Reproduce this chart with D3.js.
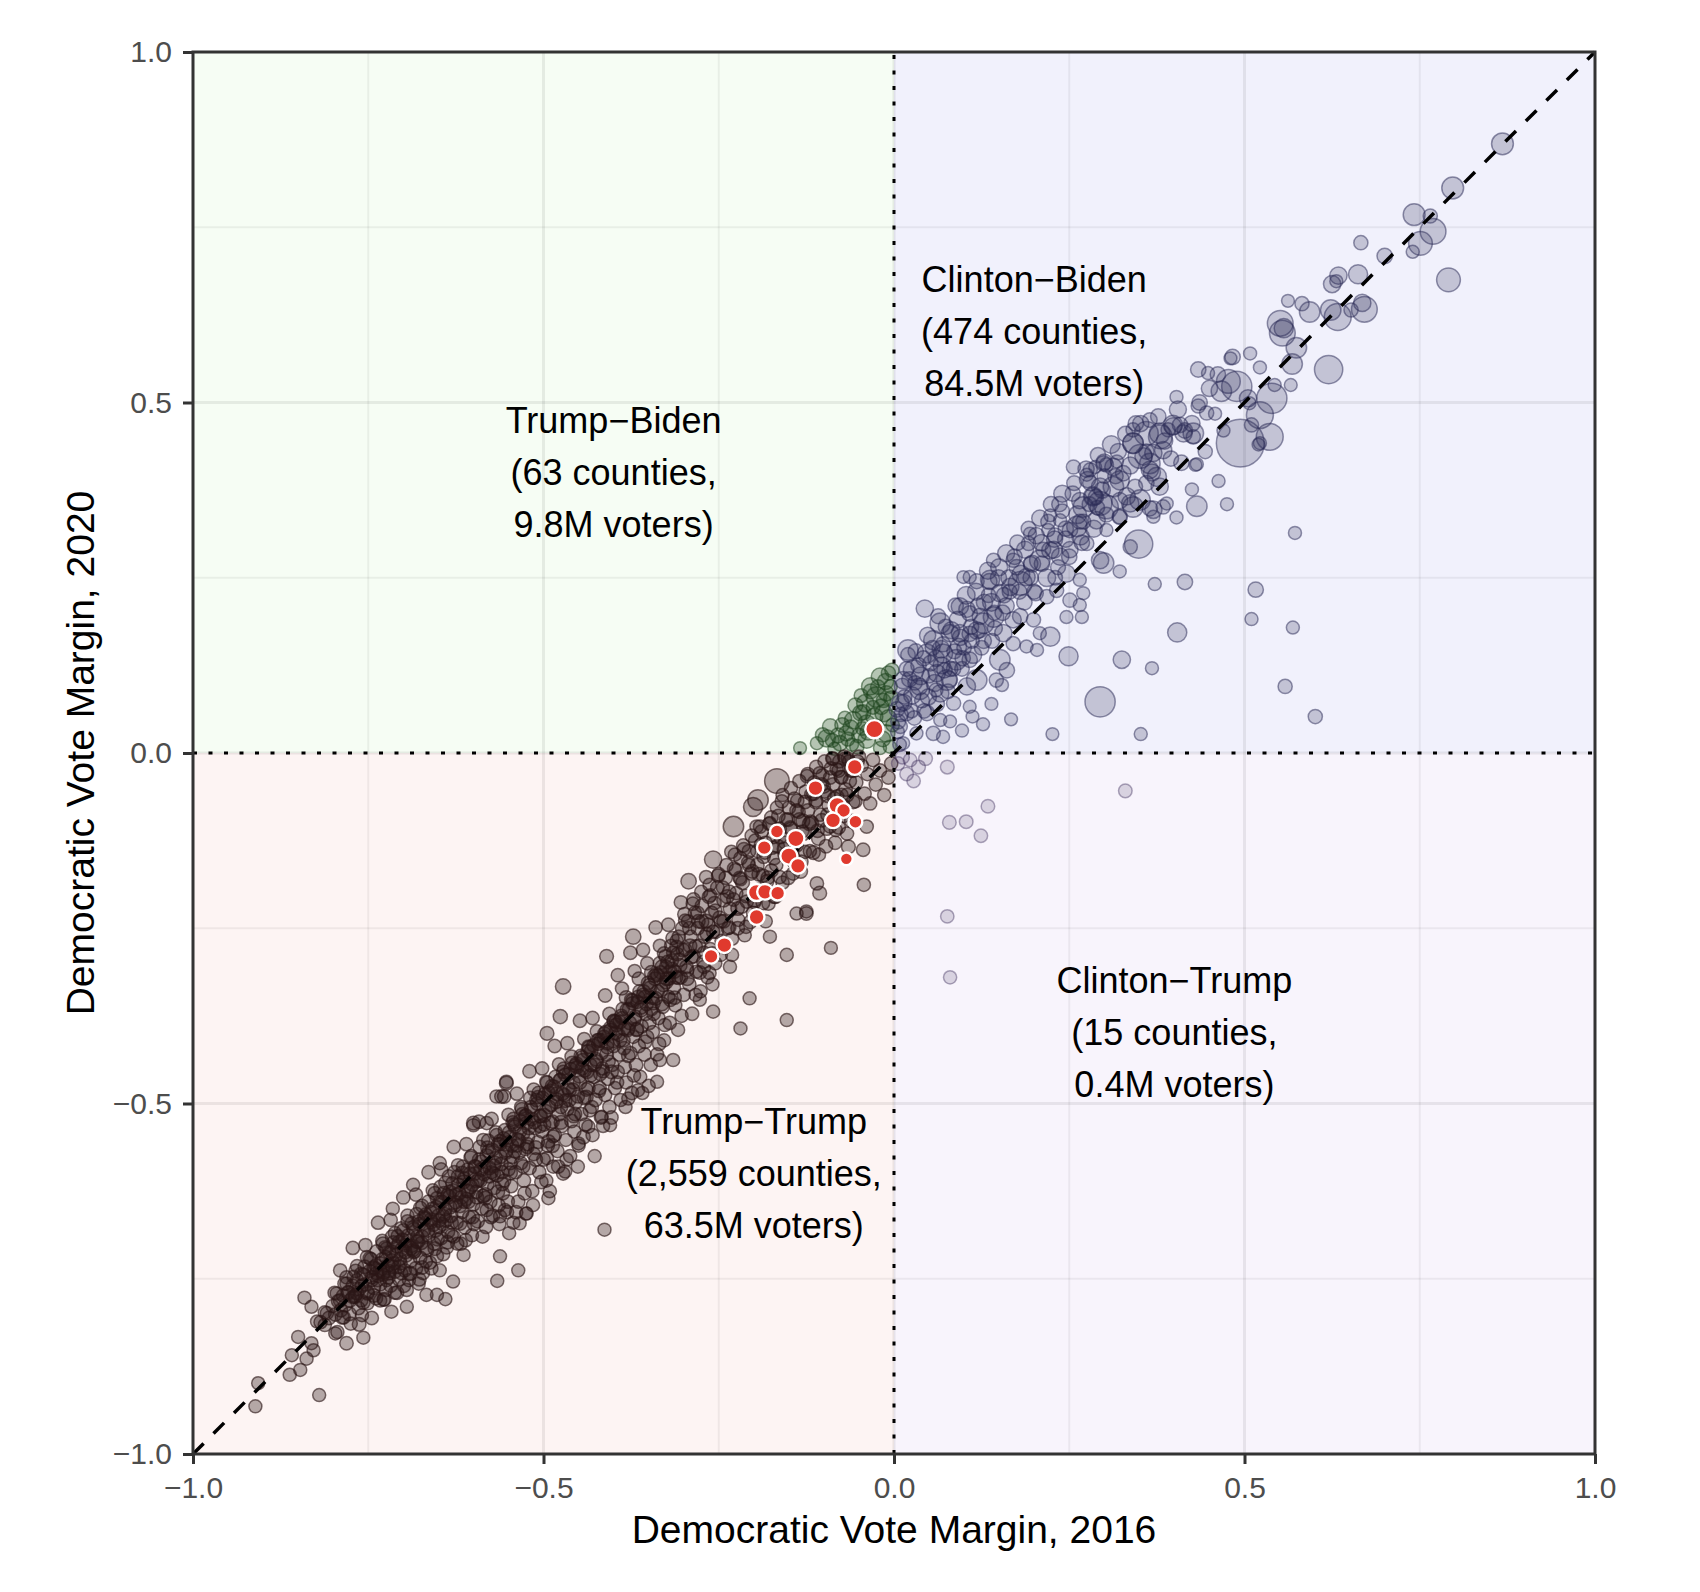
<!DOCTYPE html>
<html>
<head>
<meta charset="utf-8">
<script src="https://cdn.jsdelivr.net/npm/d3@7"></script>
<style>
  body { margin: 0; background: #fff; }
  svg { display: block; font-family: "Liberation Sans", Arial, Helvetica, sans-serif; }
</style>
</head>
<body>
<svg id="chart"></svg>
<script>
// quadrant categories and their annotation text
var quadrantNames = ['Trump−Biden', 'Clinton−Biden', 'Trump−Trump', 'Clinton−Trump'];
var quadrantCounties = ['63', '474', '2,559', '15'];
var quadrantVoters = ['9.8M', '84.5M', '63.5M', '0.4M'];
var labelX = [-0.4, 0.2, -0.2, 0.4];
var labelY = [0.4, 0.6, -0.6, -0.4];

var tickValues = [-1, -0.5, 0, 0.5, 1];
var minorValues = [-0.75, -0.25, 0.25, 0.75];

// counties: [margin 2016, margin 2020, voters (thousands)]
var trumpTrump = [
  // sparse tail + outliers
  [-0.911,-0.932,20],[-0.907,-0.899,20],[-0.820,-0.916,20],[-0.862,-0.887,25],[-0.847,-0.880,20],[-0.859,-0.859,20],
  [-0.838,-0.864,25],[-0.850,-0.833,20],[-0.828,-0.852,20],[-0.831,-0.842,20],[-0.841,-0.777,20],[-0.831,-0.790,20],
  [-0.823,-0.811,25],[-0.812,-0.816,30],[-0.797,-0.828,20],[-0.757,-0.834,20],[-0.809,-0.799,30],[-0.795,-0.771,25],
  [-0.781,-0.757,30],[-0.766,-0.771,25],[-0.759,-0.802,25],[-0.771,-0.747,20],[-0.752,-0.719,20],[-0.738,-0.742,25],
  [-0.728,-0.780,20],[-0.717,-0.797,25],[-0.695,-0.790,20],[-0.695,-0.766,25],[-0.678,-0.757,20],[-0.667,-0.773,25],
  [-0.652,-0.773,20],[-0.640,-0.779,25],[-0.629,-0.754,20],[-0.648,-0.738,20],[-0.614,-0.716,20],[-0.562,-0.718,20],
  [-0.566,-0.753,25],[-0.536,-0.738,20],[-0.549,-0.685,25],[-0.543,-0.670,20],[-0.525,-0.657,20],[-0.555,-0.652,25],
  [-0.493,-0.635,25],[-0.469,-0.597,20],[-0.715,-0.650,20],[-0.686,-0.616,25],[-0.648,-0.585,30],[-0.600,-0.531,30],
  [-0.553,-0.469,30],[-0.567,-0.490,30],[-0.581,-0.528,30],
  [-0.413,-0.680,20],[-0.153,-0.288,25],[-0.206,-0.350,20],[-0.219,-0.393,20],[-0.315,-0.438,25],[-0.334,-0.438,25],
  [-0.338,-0.469,20],[-0.365,-0.481,25],[-0.379,-0.493,20],[-0.417,-0.519,25],[-0.405,-0.531,20],[-0.436,-0.533,25],
  [-0.450,-0.557,20],[-0.486,-0.547,25],[-0.495,-0.578,20],[-0.524,-0.657,20],[-0.534,-0.671,20],[-0.562,-0.661,20],
  [-0.581,-0.652,25],[-0.372,-0.262,150],[-0.410,-0.290,60],[-0.472,-0.333,150],[-0.476,-0.376,80],[-0.495,-0.400,60],
  [-0.553,-0.471,60],[-0.560,-0.490,40],[-0.600,-0.528,60],[-0.125,-0.226,20],[-0.139,-0.229,20],[-0.177,-0.262,20],
  [-0.234,-0.305,25],[-0.263,-0.314,20],[-0.277,-0.352,20],[-0.258,-0.369,25],[-0.153,-0.381,20],[-0.090,-0.278,15],
  [-0.044,-0.138,40],[-0.043,-0.188,30],[-0.106,-0.200,60],[-0.125,-0.229,40],[-0.110,-0.186,40],[-0.065,-0.134,60],
  [-0.039,-0.105,40],[-0.167,-0.040,860],[-0.194,-0.067,500],[-0.201,-0.077,400],[-0.229,-0.105,500],[-0.258,-0.152,270],
  [-0.293,-0.183,150],
  // main band
  [-0.818,-0.812,30],[-0.812,-0.798,25],[-0.806,-0.806,40],[-0.801,-0.789,20],[-0.797,-0.801,35],[-0.793,-0.782,30],
  [-0.789,-0.795,45],[-0.786,-0.774,25],[-0.783,-0.788,30],[-0.779,-0.769,20],[-0.776,-0.781,40],[-0.772,-0.760,35],
  [-0.769,-0.776,25],[-0.766,-0.752,30],[-0.763,-0.765,45],[-0.760,-0.781,30],[-0.757,-0.744,25],[-0.754,-0.758,40],
  [-0.751,-0.771,35],[-0.748,-0.739,20],[-0.745,-0.752,30],[-0.742,-0.763,45],[-0.739,-0.731,30],[-0.736,-0.746,25],
  [-0.733,-0.758,35],
  [-0.730,-0.722,30],[-0.728,-0.741,40],[-0.726,-0.705,25],[-0.724,-0.752,20],[-0.722,-0.731,50],[-0.720,-0.713,35],
  [-0.718,-0.760,30],[-0.716,-0.724,45],[-0.714,-0.698,25],[-0.712,-0.740,30],[-0.710,-0.716,40],[-0.708,-0.689,20],
  [-0.706,-0.751,35],[-0.704,-0.728,30],[-0.702,-0.708,55],[-0.700,-0.681,25],[-0.698,-0.738,40],[-0.696,-0.717,30],
  [-0.694,-0.696,45],[-0.692,-0.752,20],[-0.690,-0.725,35],[-0.688,-0.703,30],[-0.686,-0.677,40],[-0.684,-0.711,25],
  [-0.682,-0.735,50],[-0.680,-0.690,35],[-0.678,-0.668,30],[-0.676,-0.720,45],[-0.674,-0.699,25],[-0.672,-0.742,30],
  [-0.670,-0.680,40],[-0.668,-0.658,20],[-0.666,-0.709,35],[-0.664,-0.688,60],[-0.662,-0.727,30],[-0.660,-0.669,25],
  [-0.658,-0.650,45],[-0.656,-0.700,30],[-0.654,-0.681,40],[-0.652,-0.718,25],
  [-0.650,-0.660,35],[-0.648,-0.641,30],[-0.646,-0.692,40],[-0.644,-0.672,25],[-0.642,-0.628,50],[-0.640,-0.651,30],
  [-0.638,-0.705,45],[-0.636,-0.683,20],[-0.634,-0.633,35],[-0.632,-0.660,60],[-0.630,-0.614,30],[-0.628,-0.690,25],
  [-0.626,-0.645,40],[-0.624,-0.670,30],[-0.622,-0.604,45],[-0.620,-0.628,35],[-0.618,-0.700,30],[-0.616,-0.655,25],
  [-0.614,-0.612,50],[-0.612,-0.677,35],[-0.610,-0.636,40],[-0.608,-0.594,20],[-0.606,-0.662,30],[-0.604,-0.619,55],
  [-0.602,-0.688,25],[-0.600,-0.644,35],[-0.598,-0.600,40],[-0.596,-0.626,30],[-0.594,-0.668,45],[-0.592,-0.580,25],
  [-0.590,-0.610,35],[-0.588,-0.650,30],[-0.586,-0.632,60],[-0.584,-0.590,25],[-0.582,-0.676,40],[-0.580,-0.615,30],
  [-0.578,-0.568,35],[-0.576,-0.640,45],[-0.574,-0.598,20],[-0.572,-0.660,30],[-0.570,-0.620,50],[-0.568,-0.578,35],
  [-0.566,-0.603,25],[-0.564,-0.645,40],[-0.562,-0.558,30],[-0.560,-0.586,45],[-0.558,-0.628,35],[-0.556,-0.610,25],
  [-0.554,-0.570,55],[-0.552,-0.655,30],[-0.550,-0.594,40],
  [-0.548,-0.548,35],[-0.546,-0.618,30],[-0.544,-0.576,45],[-0.542,-0.530,25],[-0.540,-0.598,40],[-0.538,-0.560,30],
  [-0.536,-0.640,35],[-0.534,-0.540,60],[-0.532,-0.585,25],[-0.530,-0.515,30],[-0.528,-0.610,45],[-0.526,-0.565,35],
  [-0.524,-0.528,40],[-0.522,-0.548,25],[-0.520,-0.592,50],[-0.518,-0.505,30],[-0.516,-0.625,35],[-0.514,-0.572,40],
  [-0.512,-0.535,30],[-0.510,-0.495,45],[-0.508,-0.555,25],[-0.506,-0.598,35],[-0.504,-0.518,55],[-0.502,-0.540,30],
  [-0.500,-0.580,40],[-0.498,-0.486,25],[-0.496,-0.610,30],[-0.494,-0.560,45],[-0.492,-0.505,35],[-0.490,-0.528,50],
  [-0.488,-0.475,25],[-0.486,-0.590,30],[-0.484,-0.545,40],[-0.482,-0.498,35],[-0.480,-0.568,25],[-0.478,-0.515,60],
  [-0.476,-0.466,30],[-0.474,-0.532,45],[-0.472,-0.600,30],[-0.470,-0.488,35],[-0.468,-0.552,25],[-0.466,-0.508,40],
  [-0.464,-0.458,30],[-0.462,-0.575,35],[-0.460,-0.525,50],[-0.458,-0.480,25],[-0.456,-0.540,30],[-0.454,-0.498,45],
  [-0.452,-0.448,35],[-0.450,-0.560,30],
  [-0.448,-0.470,40],[-0.446,-0.515,30],[-0.444,-0.438,25],[-0.442,-0.492,55],[-0.440,-0.530,35],[-0.438,-0.455,30],
  [-0.436,-0.478,45],[-0.434,-0.510,25],[-0.432,-0.425,40],[-0.430,-0.545,30],[-0.428,-0.462,35],[-0.426,-0.495,50],
  [-0.424,-0.440,30],[-0.422,-0.415,25],[-0.420,-0.478,45],[-0.418,-0.520,35],[-0.416,-0.450,30],[-0.414,-0.405,40],
  [-0.412,-0.488,25],[-0.410,-0.430,55],[-0.408,-0.465,30],[-0.406,-0.505,35],[-0.404,-0.395,40],[-0.402,-0.445,30],
  [-0.400,-0.418,45],[-0.398,-0.478,25],[-0.396,-0.388,35],[-0.394,-0.455,30],[-0.392,-0.430,60],[-0.390,-0.495,25],
  [-0.388,-0.378,30],[-0.386,-0.410,40],[-0.384,-0.448,35],[-0.382,-0.470,25],[-0.380,-0.395,45],[-0.378,-0.365,30],
  [-0.376,-0.428,35],[-0.374,-0.485,40],[-0.372,-0.405,30],[-0.370,-0.380,25],[-0.368,-0.445,50],[-0.366,-0.355,30],
  [-0.364,-0.418,35],[-0.362,-0.462,25],[-0.360,-0.390,40],[-0.358,-0.345,30],[-0.356,-0.430,45],[-0.354,-0.372,35],
  [-0.352,-0.405,25],[-0.350,-0.475,30],
  [-0.348,-0.335,35],[-0.346,-0.365,40],[-0.344,-0.398,30],[-0.342,-0.318,25],[-0.340,-0.350,50],[-0.338,-0.430,30],
  [-0.336,-0.378,35],[-0.334,-0.300,40],[-0.332,-0.338,30],[-0.330,-0.362,45],[-0.328,-0.410,25],[-0.326,-0.290,35],
  [-0.324,-0.322,60],[-0.322,-0.348,30],[-0.320,-0.385,40],[-0.318,-0.275,25],[-0.316,-0.308,35],[-0.314,-0.335,45],
  [-0.312,-0.360,30],[-0.310,-0.268,35],[-0.308,-0.395,25],[-0.306,-0.295,40],[-0.304,-0.320,30],[-0.302,-0.250,55],
  [-0.300,-0.345,35],[-0.298,-0.280,30],[-0.296,-0.305,45],[-0.294,-0.240,25],[-0.292,-0.330,40],[-0.290,-0.262,30],
  [-0.288,-0.372,35],[-0.286,-0.290,50],[-0.284,-0.228,30],[-0.282,-0.312,25],[-0.280,-0.250,40],[-0.278,-0.275,35],
  [-0.276,-0.340,30],[-0.274,-0.218,45],[-0.272,-0.298,25],[-0.270,-0.262,35],[-0.268,-0.240,60],[-0.266,-0.320,30],
  [-0.264,-0.205,35],[-0.262,-0.280,40],[-0.260,-0.228,30],
  [-0.258,-0.255,35],[-0.255,-0.300,30],[-0.252,-0.192,45],[-0.249,-0.235,40],[-0.246,-0.268,30],[-0.243,-0.210,55],
  [-0.240,-0.178,35],[-0.237,-0.250,30],[-0.234,-0.222,40],[-0.231,-0.288,25],[-0.228,-0.165,45],[-0.225,-0.200,35],
  [-0.222,-0.238,30],[-0.219,-0.150,40],[-0.216,-0.185,60],[-0.213,-0.260,30],[-0.210,-0.212,35],[-0.207,-0.140,45],
  [-0.204,-0.172,30],[-0.201,-0.228,40],[-0.198,-0.125,35],[-0.195,-0.160,50],[-0.192,-0.195,30],[-0.189,-0.112,40],
  [-0.186,-0.148,35],[-0.183,-0.240,30],[-0.180,-0.178,45],[-0.177,-0.100,30],[-0.174,-0.135,40],[-0.171,-0.205,35],
  [-0.168,-0.160,30],[-0.165,-0.090,45],[-0.162,-0.120,35],[-0.159,-0.185,30],[-0.156,-0.145,40],
  [-0.150,-0.078,35],[-0.147,-0.108,40],[-0.144,-0.172,30],[-0.141,-0.130,45],[-0.138,-0.068,35],[-0.135,-0.095,50],
  [-0.132,-0.155,30],[-0.129,-0.115,40],[-0.126,-0.055,35],[-0.123,-0.082,45],[-0.120,-0.140,30],[-0.117,-0.100,40],
  [-0.114,-0.042,35],[-0.111,-0.068,30],[-0.108,-0.122,45],[-0.105,-0.088,35],[-0.102,-0.032,40],[-0.099,-0.055,30],
  [-0.096,-0.108,35],[-0.093,-0.075,45],[-0.090,-0.022,30],[-0.087,-0.045,40],[-0.084,-0.128,35],[-0.081,-0.062,30],
  [-0.078,-0.012,35],[-0.075,-0.035,45],[-0.072,-0.090,30],[-0.069,-0.052,40],
  [-0.066,-0.008,35],[-0.062,-0.025,40],[-0.058,-0.070,30],[-0.054,-0.042,45],[-0.050,-0.005,30],[-0.046,-0.018,35],
  [-0.042,-0.058,40],[-0.038,-0.030,30],[-0.034,-0.072,35],[-0.030,-0.010,45],[-0.026,-0.045,30],[-0.020,-0.025,35],
  [-0.014,-0.060,30],[-0.008,-0.035,40],[-0.004,-0.015,35],
  // dense core of the band
  [-0.745,-0.748,30],[-0.741,-0.735,25],[-0.737,-0.752,35],[-0.733,-0.728,40],[-0.729,-0.744,30],[-0.725,-0.719,25],
  [-0.721,-0.739,35],[-0.717,-0.711,45],[-0.713,-0.728,30],[-0.709,-0.704,25],[-0.705,-0.722,40],[-0.701,-0.694,30],
  [-0.697,-0.712,35],[-0.693,-0.688,25],[-0.689,-0.706,45],[-0.685,-0.679,30],[-0.681,-0.697,40],[-0.677,-0.672,25],
  [-0.673,-0.690,35],[-0.669,-0.664,30],[-0.665,-0.681,50],[-0.661,-0.655,25],[-0.657,-0.673,35],[-0.653,-0.648,40],
  [-0.649,-0.667,30],[-0.645,-0.640,25],[-0.641,-0.658,45],[-0.637,-0.631,30],[-0.633,-0.648,35],[-0.629,-0.624,40],
  [-0.625,-0.641,25],[-0.621,-0.616,30],[-0.617,-0.634,45],[-0.613,-0.607,35],[-0.609,-0.625,30],[-0.605,-0.600,40],
  [-0.601,-0.616,25],[-0.597,-0.590,35],[-0.593,-0.609,50],[-0.589,-0.583,30],[-0.585,-0.601,25],[-0.581,-0.574,40],
  [-0.577,-0.592,35],[-0.573,-0.566,30],[-0.569,-0.585,45],[-0.565,-0.558,25],[-0.561,-0.576,35],[-0.557,-0.550,40],
  [-0.553,-0.567,30],[-0.549,-0.541,25],[-0.545,-0.560,45],[-0.541,-0.533,35],[-0.537,-0.551,30],[-0.533,-0.525,40],
  [-0.529,-0.543,25],[-0.525,-0.517,35],[-0.521,-0.535,50],[-0.517,-0.509,30],[-0.513,-0.527,25],[-0.509,-0.500,40],
  [-0.505,-0.518,35],[-0.501,-0.492,30],[-0.497,-0.511,45],[-0.493,-0.484,25],[-0.489,-0.502,35],[-0.485,-0.476,40],
  [-0.481,-0.494,30],[-0.477,-0.467,25],[-0.473,-0.486,45],[-0.469,-0.459,35],[-0.465,-0.478,30],[-0.461,-0.451,40],
  [-0.457,-0.470,25],[-0.453,-0.443,35],[-0.449,-0.461,50],[-0.445,-0.434,30],[-0.441,-0.453,25],[-0.437,-0.426,40],
  [-0.433,-0.445,35],[-0.429,-0.417,30],[-0.425,-0.437,45],[-0.421,-0.409,25],[-0.417,-0.428,35],[-0.413,-0.400,40],
  [-0.409,-0.420,30],[-0.405,-0.392,25],[-0.401,-0.411,45],[-0.397,-0.383,35],[-0.393,-0.402,30],[-0.389,-0.375,40],
  [-0.385,-0.394,25],[-0.381,-0.366,35],[-0.377,-0.385,50],[-0.373,-0.357,30],[-0.369,-0.376,25],[-0.365,-0.348,40],
  [-0.361,-0.367,35],[-0.357,-0.340,30],[-0.353,-0.358,45],[-0.349,-0.331,25],[-0.345,-0.349,35],[-0.341,-0.322,40],
  [-0.337,-0.340,30],[-0.333,-0.313,25],[-0.329,-0.331,45],[-0.325,-0.305,35],[-0.321,-0.322,30],[-0.317,-0.296,40],
  [-0.313,-0.312,25],[-0.309,-0.287,35],[-0.305,-0.303,50],
  // wider spread of the band
  [-0.798,-0.770,30],[-0.794,-0.826,25],[-0.790,-0.781,45],[-0.785,-0.805,35],[-0.781,-0.748,30],[-0.777,-0.800,60],
  [-0.772,-0.776,25],[-0.768,-0.739,40],[-0.764,-0.792,30],[-0.759,-0.760,35],[-0.755,-0.733,45],[-0.751,-0.785,25],
  [-0.746,-0.722,30],[-0.742,-0.774,40],[-0.738,-0.711,35],[-0.733,-0.781,25],[-0.729,-0.700,50],[-0.725,-0.766,30],
  [-0.720,-0.742,35],[-0.716,-0.690,40],[-0.712,-0.770,25],[-0.707,-0.733,45],[-0.703,-0.678,30],[-0.699,-0.760,35],
  [-0.694,-0.668,25],[-0.690,-0.742,60],[-0.686,-0.709,30],[-0.681,-0.658,40],[-0.677,-0.751,35],[-0.673,-0.646,25],
  [-0.668,-0.725,45],[-0.664,-0.640,30],[-0.660,-0.735,35],[-0.655,-0.628,40],[-0.651,-0.694,30],
  [-0.647,-0.619,35],[-0.643,-0.715,25],[-0.639,-0.667,45],[-0.635,-0.604,30],[-0.631,-0.688,40],[-0.627,-0.598,35],
  [-0.623,-0.700,25],[-0.619,-0.646,50],[-0.615,-0.590,30],[-0.611,-0.695,35],[-0.607,-0.640,40],[-0.603,-0.575,25],
  [-0.599,-0.672,45],[-0.595,-0.611,30],[-0.591,-0.562,35],[-0.587,-0.690,25],[-0.583,-0.630,60],[-0.579,-0.553,30],
  [-0.575,-0.662,40],[-0.571,-0.600,35],[-0.567,-0.545,25],[-0.563,-0.672,30],[-0.559,-0.615,45],[-0.555,-0.538,35],
  [-0.551,-0.640,40],[-0.547,-0.585,30],[-0.543,-0.522,25],[-0.539,-0.655,35],[-0.535,-0.570,50],[-0.531,-0.508,30],
  [-0.527,-0.628,40],[-0.523,-0.558,35],[-0.519,-0.492,25],[-0.515,-0.645,30],[-0.511,-0.580,45],[-0.507,-0.485,35],
  [-0.503,-0.612,40],[-0.499,-0.530,30],[-0.495,-0.470,25],[-0.491,-0.625,35],[-0.487,-0.560,55],[-0.483,-0.462,30],
  [-0.479,-0.590,40],[-0.475,-0.505,35],[-0.471,-0.450,25],
  [-0.467,-0.580,30],[-0.463,-0.495,45],[-0.459,-0.442,35],[-0.455,-0.515,40],[-0.451,-0.590,25],[-0.447,-0.432,30],
  [-0.443,-0.548,50],[-0.439,-0.480,35],[-0.435,-0.420,40],[-0.431,-0.505,30],[-0.427,-0.575,25],[-0.423,-0.410,45],
  [-0.419,-0.458,35],[-0.415,-0.532,30],[-0.411,-0.398,40],[-0.407,-0.440,25],[-0.403,-0.520,35],[-0.399,-0.382,60],
  [-0.395,-0.470,30],[-0.391,-0.410,40],[-0.387,-0.365,35],[-0.383,-0.505,25],[-0.379,-0.432,45],[-0.375,-0.352,30],
  [-0.371,-0.460,35],[-0.367,-0.395,40],[-0.363,-0.340,30],[-0.359,-0.485,25],[-0.355,-0.412,50],[-0.351,-0.328,35],
  [-0.347,-0.445,30],[-0.343,-0.372,40],[-0.339,-0.315,25],[-0.335,-0.415,35],[-0.331,-0.305,45],[-0.327,-0.388,30],
  [-0.323,-0.298,40],[-0.319,-0.352,35],
  [-0.315,-0.285,30],[-0.311,-0.320,45],[-0.307,-0.262,35],[-0.303,-0.375,25],[-0.299,-0.230,40],[-0.295,-0.310,30],
  [-0.291,-0.275,55],[-0.287,-0.215,35],[-0.283,-0.345,30],[-0.279,-0.240,40],[-0.275,-0.198,25],[-0.271,-0.305,35],
  [-0.267,-0.258,45],[-0.263,-0.188,30],[-0.259,-0.330,25],[-0.255,-0.225,40],[-0.251,-0.175,35],[-0.247,-0.288,30],
  [-0.243,-0.240,50],[-0.239,-0.160,35],[-0.235,-0.198,40],[-0.231,-0.265,25],[-0.227,-0.145,30],[-0.223,-0.222,45],
  [-0.219,-0.180,35],[-0.215,-0.132,40],[-0.211,-0.248,30],[-0.207,-0.160,25],[-0.203,-0.118,35],[-0.199,-0.210,60],
  [-0.195,-0.140,30],[-0.191,-0.105,40],[-0.187,-0.175,35],[-0.183,-0.128,25],[-0.179,-0.215,30],[-0.175,-0.092,45],
  [-0.171,-0.150,35],[-0.167,-0.078,30],[-0.163,-0.108,40],[-0.159,-0.060,25],[-0.155,-0.128,35],[-0.151,-0.095,50],
  [-0.147,-0.050,30],[-0.143,-0.155,35],[-0.139,-0.082,40],[-0.135,-0.040,30],[-0.131,-0.112,25],[-0.127,-0.070,45],
  [-0.123,-0.030,35],[-0.119,-0.098,30],[-0.115,-0.058,40],[-0.111,-0.020,35],[-0.107,-0.145,25],[-0.103,-0.045,45],
  [-0.099,-0.012,30],[-0.095,-0.088,35],[-0.091,-0.035,40],[-0.087,-0.008,30],[-0.083,-0.110,25],[-0.079,-0.025,35],
  [-0.075,-0.060,45],[-0.071,-0.005,30],[-0.067,-0.115,35],[-0.063,-0.040,40],
  // further fill of the band
  [-0.790,-0.738,35],[-0.787,-0.805,50],[-0.784,-0.757,28],[-0.781,-0.842,42],[-0.778,-0.770,60],[-0.775,-0.814,30],
  [-0.772,-0.706,38],[-0.769,-0.774,45],[-0.766,-0.732,25],[-0.763,-0.815,55],[-0.760,-0.743,33],[-0.757,-0.784,40],
  [-0.754,-0.702,35],[-0.751,-0.769,50],[-0.748,-0.721,28],[-0.745,-0.806,42],[-0.742,-0.734,60],[-0.739,-0.778,30],
  [-0.736,-0.670,38],[-0.733,-0.738,45],[-0.730,-0.696,25],[-0.727,-0.779,55],[-0.724,-0.707,33],[-0.721,-0.748,40],
  [-0.718,-0.666,35],[-0.715,-0.733,50],[-0.712,-0.685,28],[-0.709,-0.770,42],[-0.706,-0.698,60],[-0.703,-0.742,30],
  [-0.700,-0.634,38],[-0.697,-0.702,45],[-0.694,-0.660,25],[-0.691,-0.743,55],[-0.688,-0.671,33],[-0.685,-0.712,40],
  [-0.682,-0.630,35],[-0.679,-0.697,50],[-0.676,-0.649,28],[-0.673,-0.734,42],[-0.670,-0.662,60],[-0.667,-0.706,30],
  [-0.664,-0.598,38],[-0.661,-0.666,45],[-0.658,-0.624,25],[-0.655,-0.707,55],[-0.652,-0.635,33],[-0.649,-0.676,40],
  [-0.646,-0.594,35],[-0.643,-0.661,50],[-0.640,-0.613,28],[-0.637,-0.698,42],[-0.634,-0.626,60],[-0.631,-0.670,30],
  [-0.628,-0.562,38],[-0.625,-0.630,45],[-0.622,-0.588,25],[-0.619,-0.671,55],[-0.616,-0.599,33],[-0.613,-0.640,40],
  [-0.610,-0.558,35],[-0.607,-0.625,50],[-0.604,-0.577,28],[-0.601,-0.662,42],[-0.598,-0.590,60],[-0.595,-0.634,30],
  [-0.592,-0.526,38],[-0.589,-0.594,45],[-0.586,-0.552,25],[-0.583,-0.635,55],[-0.580,-0.563,33],[-0.577,-0.604,40],
  [-0.574,-0.522,35],[-0.571,-0.589,50],[-0.568,-0.541,28],[-0.565,-0.626,42],[-0.562,-0.554,60],[-0.559,-0.598,30],
  [-0.556,-0.490,38],[-0.553,-0.558,45],[-0.550,-0.516,25],[-0.547,-0.599,55],[-0.544,-0.527,33],[-0.541,-0.568,40],
  [-0.538,-0.486,35],[-0.535,-0.553,50],[-0.532,-0.505,28],[-0.529,-0.590,42],[-0.526,-0.518,60],[-0.523,-0.562,30],
  [-0.520,-0.454,38],[-0.517,-0.522,45],[-0.514,-0.480,25],[-0.511,-0.563,55],[-0.508,-0.491,33],[-0.505,-0.532,40],
  [-0.502,-0.450,35],[-0.499,-0.517,50],[-0.496,-0.469,28],[-0.493,-0.554,42],[-0.490,-0.482,60],[-0.487,-0.526,30],
  [-0.484,-0.418,38],[-0.481,-0.486,45],[-0.478,-0.444,25],[-0.475,-0.527,55],[-0.472,-0.455,33],[-0.469,-0.496,40],
  [-0.466,-0.414,35],[-0.463,-0.481,50],[-0.460,-0.433,28],[-0.457,-0.518,42],[-0.454,-0.446,60],[-0.451,-0.490,30],
  [-0.448,-0.382,38],[-0.445,-0.450,45],[-0.442,-0.408,25],[-0.439,-0.491,55],[-0.436,-0.419,33],[-0.433,-0.460,40],
  [-0.430,-0.378,35],[-0.427,-0.445,50],[-0.424,-0.397,28],[-0.421,-0.482,42],[-0.418,-0.410,60],[-0.415,-0.454,30],
  [-0.412,-0.346,38],[-0.409,-0.414,45],[-0.406,-0.372,25],[-0.403,-0.455,55],[-0.400,-0.383,33],[-0.397,-0.399,40],
  [-0.394,-0.317,35],[-0.391,-0.384,50],[-0.388,-0.336,28],[-0.385,-0.421,42],[-0.382,-0.349,60],[-0.379,-0.393,30],
  [-0.376,-0.285,38],[-0.373,-0.353,45],[-0.370,-0.311,25],[-0.367,-0.394,55],[-0.364,-0.322,33],[-0.361,-0.363,40],
  [-0.358,-0.281,35],[-0.355,-0.348,50],[-0.352,-0.300,28],[-0.349,-0.385,42],[-0.346,-0.313,60],[-0.343,-0.357,30],
  [-0.340,-0.249,38],[-0.337,-0.317,45],[-0.334,-0.275,25],[-0.331,-0.358,55],[-0.328,-0.286,33],[-0.325,-0.327,40],
  [-0.322,-0.245,35],[-0.319,-0.312,50],[-0.316,-0.264,28],[-0.313,-0.349,42],[-0.310,-0.277,60],[-0.307,-0.321,30],
  [-0.304,-0.213,38],[-0.301,-0.281,45],[-0.298,-0.239,25],[-0.295,-0.322,55],[-0.292,-0.250,33],[-0.289,-0.291,40],
  [-0.286,-0.209,35],[-0.283,-0.276,50],[-0.280,-0.228,28],[-0.277,-0.313,42],[-0.274,-0.241,60],[-0.271,-0.285,30],
  [-0.268,-0.177,38],[-0.265,-0.245,45],[-0.262,-0.203,25],[-0.259,-0.286,55],[-0.256,-0.214,33],[-0.253,-0.255,40],
  [-0.250,-0.173,35],[-0.247,-0.240,50],[-0.244,-0.192,28],[-0.241,-0.277,42],[-0.238,-0.205,60],[-0.235,-0.249,30],
  [-0.232,-0.141,38],[-0.229,-0.209,45],[-0.226,-0.167,25],[-0.223,-0.250,55],[-0.220,-0.178,33],[-0.217,-0.219,40],
  [-0.214,-0.137,35],[-0.211,-0.204,50],[-0.208,-0.156,28],[-0.205,-0.241,42],[-0.202,-0.169,60],[-0.199,-0.213,30],
  [-0.196,-0.105,38],[-0.193,-0.173,45],[-0.190,-0.131,25],[-0.187,-0.214,55],[-0.184,-0.142,33],[-0.181,-0.183,40],
  [-0.178,-0.101,35],[-0.175,-0.168,50],[-0.172,-0.120,28],[-0.169,-0.205,42],[-0.166,-0.133,60],[-0.163,-0.177,30],
  [-0.160,-0.069,38],[-0.157,-0.137,45],[-0.154,-0.095,25],[-0.151,-0.178,55],[-0.148,-0.106,33],[-0.145,-0.147,40],
  [-0.142,-0.065,35],[-0.139,-0.132,50],[-0.136,-0.084,28],[-0.133,-0.169,42],[-0.130,-0.097,60],[-0.127,-0.141,30],
  [-0.124,-0.033,38],[-0.121,-0.101,45],[-0.118,-0.059,25],[-0.115,-0.142,55],[-0.112,-0.070,33],[-0.109,-0.111,40],
  [-0.106,-0.029,35],[-0.103,-0.096,50],[-0.100,-0.048,28],[-0.097,-0.133,42],[-0.094,-0.061,60],[-0.091,-0.105,30],
  [-0.088,-0.008,38],[-0.085,-0.065,45],[-0.082,-0.023,25],[-0.079,-0.106,55],[-0.076,-0.034,33],[-0.073,-0.075,40],
  [-0.070,-0.008,35],[-0.067,-0.060,50],[-0.064,-0.012,28],[-0.061,-0.097,42],[-0.058,-0.025,60],[-0.055,-0.069,30],
  [-0.052,-0.012,38]
];

var clintonBiden = [
  [0.868,0.869,610],[0.797,0.806,610],[0.742,0.768,610],[0.765,0.766,80],[0.769,0.744,970],[0.751,0.727,780],
  [0.740,0.715,20],[0.791,0.675,780],[0.666,0.728,80],[0.700,0.709,150],[0.662,0.683,400],[0.634,0.681,270],
  [0.625,0.669,270],[0.631,0.673,20],[0.668,0.642,270],[0.671,0.633,970],[0.652,0.632,80],[0.633,0.622,1090],
  [0.623,0.632,500],[0.593,0.629,500],[0.582,0.641,80],[0.562,0.645,10],[0.551,0.613,970],[0.556,0.606,400],
  [0.554,0.599,970],[0.574,0.578,500],[0.568,0.555,500],[0.620,0.547,1230],[0.566,0.525,10],[0.539,0.506,1450],
  [0.543,0.525,20],[0.522,0.550,20],[0.508,0.570,20],[0.483,0.565,150],[0.480,0.563,10],[0.434,0.547,150],
  [0.448,0.542,20],[0.477,0.530,780],[0.467,0.516,500],[0.489,0.523,1450],[0.505,0.506,270],[0.507,0.499,20],
  [0.403,0.508,20],[0.434,0.495,80],[0.446,0.485,80],[0.458,0.484,20],[0.494,0.442,4100],[0.522,0.482,1090],
  [0.536,0.451,1090],[0.510,0.468,80],[0.522,0.442,20],[0.520,0.440,10],[0.470,0.460,20],[0.444,0.430,80],
  [0.432,0.412,20],[0.410,0.414,150],[0.463,0.388,20],[0.425,0.376,20],[0.432,0.352,500],[0.475,0.355,20],
  [0.403,0.336,20],[0.398,0.468,400],[0.408,0.468,150],[0.391,0.461,80],[0.413,0.456,270],[0.427,0.451,80],
  [0.341,0.442,500],[0.351,0.423,780],[0.365,0.413,500],[0.365,0.404,270],[0.375,0.394,400],[0.360,0.385,150],
  [0.351,0.361,500],[0.365,0.349,150],[0.370,0.337,20],[0.384,0.351,80],[0.337,0.356,270],[0.380,0.451,780],
  [0.384,0.432,270],[0.280,0.404,80],[0.299,0.413,150],[0.313,0.408,270],[0.322,0.389,400],[0.294,0.380,270],
  [0.284,0.366,400],[0.303,0.351,780],[0.270,0.351,500],[0.289,0.332,270],[0.322,0.337,150],
  [0.349,0.298,1230],[0.337,0.294,80],[0.572,0.314,20],[0.372,0.241,20],[0.415,0.244,150],[0.516,0.233,150],
  [0.510,0.191,20],[0.569,0.179,20],[0.404,0.172,400],[0.325,0.133,270],[0.368,0.121,20],[0.294,0.073,1450],
  [0.249,0.138,400],[0.558,0.095,80],[0.601,0.052,80],[0.352,0.027,20],[0.226,0.027,10],[0.167,0.048,10],
  [0.127,0.041,20],[0.139,0.070,10],[0.097,0.032,20],[0.112,0.052,10],[0.430,0.411,10],[0.389,0.356,20],
  [0.256,0.408,80],[0.275,0.397,20],[0.287,0.408,10],[0.303,0.411,80],[0.318,0.416,20],[0.327,0.399,150],
  [0.341,0.461,80],[0.341,0.442,500],[0.360,0.456,780],[0.379,0.456,500],[0.398,0.466,270],[0.427,0.456,500],
  [0.370,0.428,270],[0.356,0.423,270],[0.379,0.380,270],[0.370,0.347,270],[0.284,0.366,270],[0.294,0.356,780],
  [0.313,0.380,500],[0.332,0.366,270],[0.341,0.351,500],[0.322,0.337,80],[0.303,0.318,20],[0.261,0.323,500],
  [0.251,0.318,150],[0.266,0.309,270],[0.237,0.332,20],[0.223,0.339,10],[0.220,0.318,20],[0.275,0.299,80],
  [0.294,0.275,270],[0.299,0.271,500],[0.322,0.259,20],[0.194,0.313,10],[0.192,0.299,80],[0.208,0.275,500],
  [0.223,0.289,270],[0.237,0.280,270],[0.246,0.256,270],[0.265,0.247,20],[0.270,0.228,20],[0.251,0.218,80],
  [0.265,0.211,20],[0.246,0.194,20],[0.268,0.194,20],[0.142,0.275,80],[0.170,0.275,80],[0.180,0.242,780],
  [0.189,0.251,270],[0.166,0.237,270],[0.151,0.228,270],[0.137,0.247,400],[0.099,0.251,10],[0.108,0.251,20],
  [0.218,0.223,80],[0.232,0.232,80],[0.199,0.190,80],[0.208,0.171,20],[0.223,0.166,400],[0.189,0.152,20],
  [0.204,0.147,20],[0.170,0.156,80],[0.156,0.171,270],[0.142,0.194,500],[0.128,0.185,500],[0.118,0.175,270],
  [0.094,0.209,270],[0.108,0.199,150],[0.044,0.206,270],[0.066,0.185,500],[0.080,0.171,270],[0.094,0.171,270],
  [0.056,0.161,400],[0.020,0.147,500],[0.047,0.142,400],[0.070,0.142,400],[0.089,0.133,500],[0.108,0.133,150],
  [0.151,0.133,500],[0.161,0.118,150],[0.146,0.104,80],[0.154,0.097,20],[0.118,0.104,500],[0.104,0.095,270],
  [0.075,0.104,500],[0.061,0.114,270],[0.028,0.118,500],[0.013,0.104,270],[0.037,0.090,400],[0.066,0.085,270],
  [0.085,0.071,80],[0.108,0.066,10],[0.009,0.071,270],[0.018,0.057,150],[0.047,0.057,150],[0.066,0.047,20],
  [0.080,0.045,10],[0.009,0.038,80],[0.032,0.028,20],[0.056,0.028,80],[0.070,0.023,20],[0.013,0.014,20],
  [0.005,0.030,60],[0.010,0.055,80],[0.015,0.080,100],[0.025,0.060,70],[0.030,0.100,90],[0.008,0.012,50],
  [0.040,0.075,120],[0.050,0.110,80],[0.060,0.090,60],[0.035,0.125,150],[0.020,0.140,100],[0.070,0.155,130],
  [0.085,0.120,90],[0.095,0.165,200],[0.110,0.180,150],[0.125,0.150,100],[0.120,0.210,150],[0.135,0.225,100],
  [0.160,0.210,200],[0.175,0.265,150],[0.195,0.270,100],[0.210,0.300,200],[0.230,0.310,150],[0.240,0.345,100],
  [0.265,0.360,200],[0.280,0.385,150],[0.300,0.395,100],[0.320,0.430,200],[0.345,0.470,150],[0.365,0.475,100],
  [0.080,0.120,150],[0.100,0.150,100],[0.060,0.135,200],[0.140,0.160,120],[0.180,0.195,150],[0.200,0.230,120],
  [0.230,0.250,100],[0.250,0.280,150],[0.270,0.330,120],[0.290,0.350,100],
  [0.004,0.062,150],[0.012,0.095,200],[0.018,0.120,120],[0.026,0.082,250],[0.031,0.145,150],[0.038,0.110,300],
  [0.043,0.060,100],[0.048,0.168,200],[0.052,0.128,150],[0.058,0.100,250],[0.063,0.195,120],[0.067,0.148,300],
  [0.072,0.118,150],[0.077,0.088,100],[0.082,0.175,250],[0.088,0.210,150],[0.092,0.152,200],[0.097,0.120,100],
  [0.103,0.225,300],[0.108,0.170,150],[0.113,0.140,250],[0.118,0.245,120],[0.123,0.195,200],[0.128,0.160,150],
  [0.134,0.260,250],[0.139,0.215,300],[0.144,0.178,120],[0.149,0.250,200],[0.155,0.200,150],[0.160,0.285,250],
  [0.165,0.230,120],[0.170,0.190,200],[0.176,0.300,150],[0.181,0.255,300],[0.186,0.215,150],[0.192,0.320,120],
  [0.197,0.270,250],[0.202,0.228,150],[0.208,0.335,200],[0.213,0.290,120],[0.218,0.250,300],[0.224,0.355,150],
  [0.229,0.305,200],[0.234,0.265,120],[0.240,0.370,250],[0.245,0.320,150],[0.251,0.290,200],[0.257,0.385,120],
  [0.262,0.340,300],[0.268,0.300,150],[0.274,0.405,200],[0.279,0.355,120],[0.285,0.320,250],[0.291,0.425,150],
  [0.297,0.375,200],[0.303,0.340,120],[0.310,0.440,300],[0.316,0.395,150],[0.322,0.360,200],[0.330,0.455,150],
  [0.337,0.410,250],[0.344,0.380,120],[0.352,0.470,200],[0.360,0.430,150],[0.368,0.400,250],[0.377,0.480,150],
  [0.386,0.445,200],[0.395,0.420,150],[0.405,0.490,250],[0.415,0.460,150],[0.425,0.470,200],[0.436,0.500,150],
  [0.450,0.520,200],[0.462,0.540,150],
  [0.006,0.045,120],[0.014,0.072,200],[0.022,0.105,150],[0.029,0.050,100],[0.036,0.095,250],[0.042,0.135,150],
  [0.049,0.080,200],[0.055,0.150,120],[0.061,0.070,150],[0.068,0.125,250],[0.074,0.180,150],[0.079,0.105,200],
  [0.086,0.145,120],[0.091,0.190,250],[0.098,0.135,150],[0.104,0.205,200],[0.111,0.160,120],[0.117,0.230,250],
  [0.122,0.175,150],[0.129,0.215,200],[0.136,0.245,150],[0.143,0.200,120],[0.150,0.265,250],[0.157,0.225,150],
  [0.164,0.250,200],[0.172,0.280,150],[0.179,0.230,120],[0.187,0.290,250],[0.195,0.250,150],[0.203,0.310,200],
  [0.211,0.270,150],[0.220,0.330,120],[0.228,0.290,250],[0.236,0.355,150],[0.245,0.305,200],[0.255,0.370,150],
  [0.265,0.330,120],[0.276,0.390,200],[0.288,0.365,150],[0.300,0.415,200]
];

var trumpBiden = [
  [-0.020,0.109,270],[-0.008,0.114,80],[-0.034,0.095,270],[-0.025,0.080,500],[-0.011,0.085,150],[-0.041,0.071,270],
  [-0.048,0.057,150],[-0.058,0.047,270],[-0.039,0.042,270],[-0.015,0.057,270],[-0.011,0.028,270],[-0.039,0.019,270],
  [-0.068,0.028,150],[-0.091,0.038,150],[-0.096,0.021,270],[-0.077,0.014,150],[-0.110,0.014,20],[-0.053,0.009,80],
  [-0.020,0.007,20],[-0.025,0.038,80],[-0.006,0.009,20],[-0.134,0.007,10],[-0.070,0.050,40],[-0.030,0.065,60],
  [-0.005,0.095,50],[-0.015,0.075,80],[-0.045,0.035,40],[-0.060,0.012,30],[-0.085,0.006,25],[-0.002,0.040,45],
  [-0.004,0.078,120],[-0.012,0.102,200],[-0.018,0.066,150],[-0.028,0.052,250],[-0.033,0.088,120],[-0.037,0.030,200],
  [-0.044,0.058,150],[-0.050,0.025,100],[-0.055,0.068,120],[-0.062,0.036,150],[-0.066,0.020,80],[-0.074,0.040,100],
  [-0.080,0.025,120],[-0.088,0.018,60],[-0.102,0.026,80],[-0.008,0.050,200],[-0.016,0.020,150],[-0.023,0.094,100],
  [-0.003,0.118,80],[-0.047,0.082,60]
];

var clintonTrump = [
  [0.330,-0.054,50],[0.134,-0.076,50],[0.079,-0.099,50],[0.103,-0.098,50],[0.124,-0.118,40],[0.076,-0.233,40],
  [0.080,-0.320,30],[0.035,-0.020,60],[0.023,-0.010,50],[0.076,-0.020,60],[0.012,-0.006,60],[0.018,-0.030,50],
  [0.045,-0.008,60],[0.006,-0.015,40],[0.028,-0.040,40]
];

// highlighted counties (red)
var highlighted = [
  [-0.028,0.034,330],[-0.056,-0.020,170],[-0.112,-0.050,170],[-0.081,-0.075,260],[-0.072,-0.082,110],
  [-0.087,-0.096,170],[-0.055,-0.098,60],[-0.167,-0.112,60],[-0.140,-0.122,260],[-0.185,-0.135,110],
  [-0.150,-0.147,260],[-0.137,-0.161,170],[-0.068,-0.151,10],[-0.196,-0.199,260],[-0.184,-0.198,170],
  [-0.166,-0.200,110],[-0.196,-0.234,170],[-0.242,-0.274,170],[-0.261,-0.290,110]
];

var bgColor = ['#f6fdf4', '#f1f1fc', '#fdf4f3', '#f8f4fc'];
var dotColor = ['#1f451f', '#2a2a55', '#2b1616', '#3a2a58'];
var dotFillOpacity = [0.3, 0.23, 0.35, 0.17];
var dotStrokeOpacity = [0.55, 0.5, 0.62, 0.4];
var pointSets = [trumpBiden, clintonBiden, trumpTrump, clintonTrump];

var svgWidth = 1700, svgHeight = 1592;
var panelLeft = 193, panelTop = 52, panelSize = 1402;

var svg = d3.select('#chart')
    .attr('width', svgWidth)
    .attr('height', svgHeight);

var x = d3.scaleLinear().domain([-1, 1]).range([panelLeft, panelLeft + panelSize]);
var y = d3.scaleLinear().domain([-1, 1]).range([panelTop + panelSize, panelTop]);
var r = d3.scaleRadial().domain([0, 4500]).range([6.3, 25]);

svg.append('defs').append('clipPath').attr('id', 'panel')
    .append('rect').attr('x', panelLeft).attr('y', panelTop)
    .attr('width', panelSize).attr('height', panelSize);

// quadrant backgrounds
svg.append('g').selectAll('rect')
    .data(quadrantNames)
    .join('rect')
    .attr('x', function (d) { return d.indexOf('Trump') === 0 ? x(-1) : x(0); })
    .attr('y', function (d, i) { return i < 2 ? y(1) : y(0); })
    .attr('width', panelSize / 2)
    .attr('height', panelSize / 2)
    .attr('fill', function (d, i) { return bgColor[i]; });

// grid
var grid = svg.append('g');
grid.selectAll('.vmin').data(minorValues).join('line')
    .attr('x1', x).attr('x2', x).attr('y1', y(-1)).attr('y2', y(1))
    .attr('stroke', 'rgba(0,0,0,0.055)').attr('stroke-width', 2);
grid.selectAll('.hmin').data(minorValues).join('line')
    .attr('y1', y).attr('y2', y).attr('x1', x(-1)).attr('x2', x(1))
    .attr('stroke', 'rgba(0,0,0,0.055)').attr('stroke-width', 2);
grid.selectAll('.vmaj').data([-0.5, 0, 0.5]).join('line')
    .attr('x1', x).attr('x2', x).attr('y1', y(-1)).attr('y2', y(1))
    .attr('stroke', 'rgba(0,0,0,0.07)').attr('stroke-width', 3);
grid.selectAll('.hmaj').data([-0.5, 0, 0.5]).join('line')
    .attr('y1', y).attr('y2', y).attr('x1', x(-1)).attr('x2', x(1))
    .attr('stroke', 'rgba(0,0,0,0.07)').attr('stroke-width', 3);

// county bubbles
var pointsG = svg.append('g').attr('clip-path', 'url(#panel)');
pointSets.forEach(function (pts, i) {
  pointsG.append('g').selectAll('circle')
      .data(pts)
      .join('circle')
      .attr('cx', function (d) { return x(d[0]); })
      .attr('cy', function (d) { return y(d[1]); })
      .attr('r', function (d) { return r(d[2]); })
      .attr('fill', dotColor[i])
      .attr('fill-opacity', dotFillOpacity[i])
      .attr('stroke', dotColor[i])
      .attr('stroke-opacity', dotStrokeOpacity[i])
      .attr('stroke-width', 1.5);
});

// zero lines (dotted) and diagonal (dashed)
svg.append('line')
    .attr('x1', x(0)).attr('x2', x(0)).attr('y1', y(-1)).attr('y2', y(1))
    .attr('stroke', '#000').attr('stroke-width', 3).attr('stroke-dasharray', '4,11.5');
svg.append('line')
    .attr('x1', x(-1)).attr('x2', x(1)).attr('y1', y(0)).attr('y2', y(0))
    .attr('stroke', '#000').attr('stroke-width', 3).attr('stroke-dasharray', '4,11.5');
svg.append('line')
    .attr('x1', x(-1)).attr('y1', y(-1)).attr('x2', x(1)).attr('y2', y(1))
    .attr('stroke', '#000').attr('stroke-width', 3.5).attr('stroke-dasharray', '15,14');

// highlighted counties
svg.append('g').selectAll('circle')
    .data(highlighted)
    .join('circle')
    .attr('cx', function (d) { return x(d[0]); })
    .attr('cy', function (d) { return y(d[1]); })
    .attr('r', function (d) { return r(d[2]); })
    .attr('fill', '#e03a2e')
    .attr('stroke', '#fff')
    .attr('stroke-width', 2.4);

// quadrant annotations
var ann = svg.append('g')
    .attr('font-size', 36)
    .attr('text-anchor', 'middle')
    .attr('fill', '#000');
quadrantNames.forEach(function (name, i) {
  var lines = [name, '(' + quadrantCounties[i] + ' counties,', quadrantVoters[i] + ' voters)'];
  var cx = x(labelX[i]), cy = y(labelY[i]);
  ann.append('g').selectAll('text')
      .data(lines)
      .join('text')
      .attr('x', cx)
      .attr('y', function (d, j) { return cy + 12 + (j - 1) * 52; })
      .text(function (d) { return d; });
});

// panel border
svg.append('rect')
    .attr('x', panelLeft).attr('y', panelTop).attr('width', panelSize).attr('height', panelSize)
    .attr('fill', 'none').attr('stroke', '#333').attr('stroke-width', 3);

// axes
var fmt = d3.format('.1f');
var x_axis = d3.axisBottom(x).tickValues(tickValues).tickFormat(fmt).tickSize(10).tickPadding(13);
var y_axis = d3.axisLeft(y).tickValues(tickValues).tickFormat(fmt).tickSize(10).tickPadding(11);

var gx = svg.append('g').attr('transform', 'translate(0,' + (panelTop + panelSize) + ')').call(x_axis);
var gy = svg.append('g').attr('transform', 'translate(' + panelLeft + ',0)').call(y_axis);
[gx, gy].forEach(function (g) {
  g.select('.domain').remove();
  g.selectAll('.tick line').attr('stroke', '#333').attr('stroke-width', 3);
  g.selectAll('.tick text')
      .attr('fill', '#4d4d4d')
      .attr('font-size', 30)
      .attr('font-family', '"Liberation Sans", Arial, Helvetica, sans-serif');
});

// axis titles
svg.append('text')
    .attr('x', panelLeft + panelSize / 2)
    .attr('y', 1543)
    .attr('text-anchor', 'middle')
    .attr('font-size', 39)
    .text('Democratic Vote Margin, 2016');
svg.append('text')
    .attr('transform', 'translate(94,' + (panelTop + panelSize / 2) + ') rotate(-90)')
    .attr('text-anchor', 'middle')
    .attr('font-size', 39)
    .text('Democratic Vote Margin, 2020');
</script>
</body>
</html>
